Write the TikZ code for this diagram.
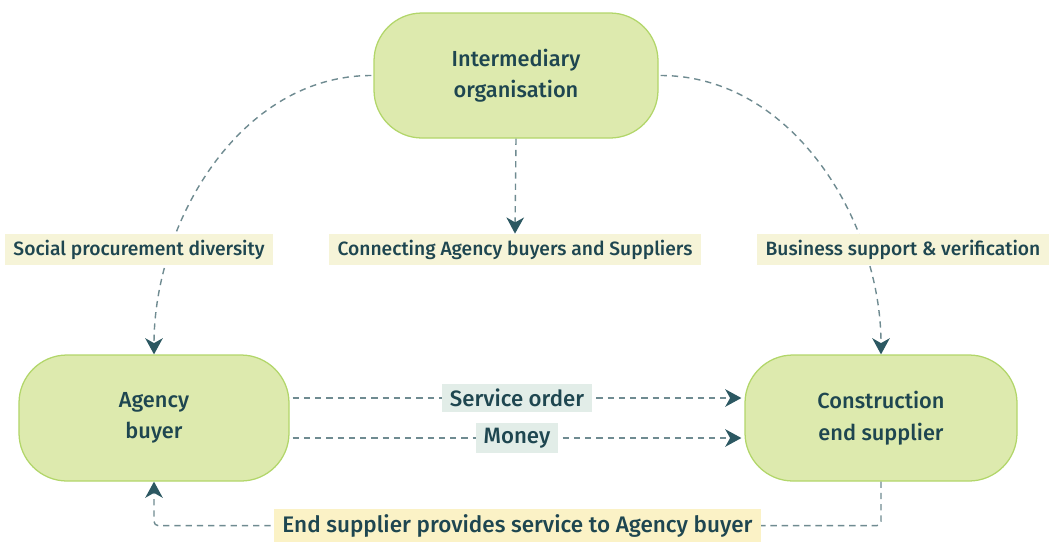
\documentclass[tikz,border=0pt]{standalone}
\usepackage{fontspec}
\setmainfont{Fira Sans}[UprightFont=* Medium]
\usetikzlibrary{arrows.meta, calc}
\definecolor{boxfill}{HTML}{DDEAAE}
\definecolor{boxline}{HTML}{B2D66A}
\definecolor{ink}{HTML}{1E4650}
\definecolor{wire}{HTML}{6F8B91}
\definecolor{tip}{HTML}{2C5862}
\definecolor{tagfill}{HTML}{F6F4D8}
\definecolor{flowfill}{HTML}{E2EDE8}
\definecolor{notefill}{HTML}{FBF2C6}
\tikzstyle{party}=[draw=boxline, fill=boxfill, line width=0.9pt,
    rounded corners=1.2cm, align=center,
    font=\fontsize{15.5}{22.5}\selectfont, text=ink]
\tikzstyle{tag}=[fill=tagfill, text=ink, minimum height=0.78cm,
    inner xsep=6pt, font=\fontsize{13.7}{15}\selectfont]
\tikzstyle{flow}=[fill=flowfill, text=ink, minimum height=0.72cm,
    inner xsep=5.5pt, font=\fontsize{15.8}{17}\selectfont]
\tikzstyle{note}=[fill=notefill, text=ink, minimum height=0.84cm,
    inner xsep=6pt, font=\fontsize{16}{17}\selectfont]
\tikzstyle{link}=[draw=wire, line width=1pt, dash pattern=on 4.5pt off 3.5pt]
\def\blockdist{9.05}
\def\rowdist{8.5625}

\begin{document}
\begin{tikzpicture}[>={Stealth[length=11.5pt,width=12.5pt,inset=3.5pt,color=tip]}]
    \useasboundingbox (0,0) rectangle (26.275,-13.525);
    \node (inter) [party, minimum width=7.1cm, minimum height=3.125cm]
        at (12.9,-1.8875) {Intermediary\\organisation};
    \path (inter)+(-\blockdist,-\rowdist) node (agency) [party,
        minimum width=6.75cm, minimum height=3.15cm] {Agency\\buyer};
    \path (inter)+(\blockdist+0.075,-\rowdist) node (constr) [party,
        minimum width=6.8cm, minimum height=3.15cm]
        {Construction\\end supplier};
    \path (inter)+(-0.025,-4.35) node (connect) [tag] {Connecting Agency buyers and Suppliers};
    % upper links
    \draw [link, ->] ($(inter.west)+(-0.05,0)$) to[out=180, in=90, looseness=0.95] (agency.north);
    \draw [link, ->] ($(inter.east)+(0.05,0)$) to[out=0, in=90, looseness=0.95] (constr.north);
    \draw [link, ->] (inter.south) -- (connect.north);
    \path (agency)+(-0.375,4.2125) node (social) [tag] {Social procurement diversity};
    \path (constr)+(0.55,4.2125) node (support) [tag] {Business support \& verification};
    % flows between buyer and supplier
    \coordinate (so1) at ($(agency.east)+(0.075,0.5)$);
    \coordinate (so2) at ($(constr.west)+(-0.075,0.5)$);
    \coordinate (mo1) at ($(agency.east)+(0.075,-0.5)$);
    \coordinate (mo2) at ($(constr.west)+(-0.075,-0.5)$);
    \draw [link, ->] (so1) -- node (order) [flow] {Service order} (so2);
    \draw [link, ->] (mo1) -- node (money) [flow] {Money} (mo2);
    % return path underneath
    \coordinate (rr) at ($(constr.south)+(0,-1.1)$);
    \coordinate (rl) at ($(agency.south)+(0,-1.1)$);
    \draw [link, ->, rounded corners=3pt]
        (constr.south) -- (rr) -- (rl) -- (agency.south);
    \node (back) [note] at ($(rl)!0.5!(rr)$) {End supplier provides service to Agency buyer};
\end{tikzpicture}
\end{document}
